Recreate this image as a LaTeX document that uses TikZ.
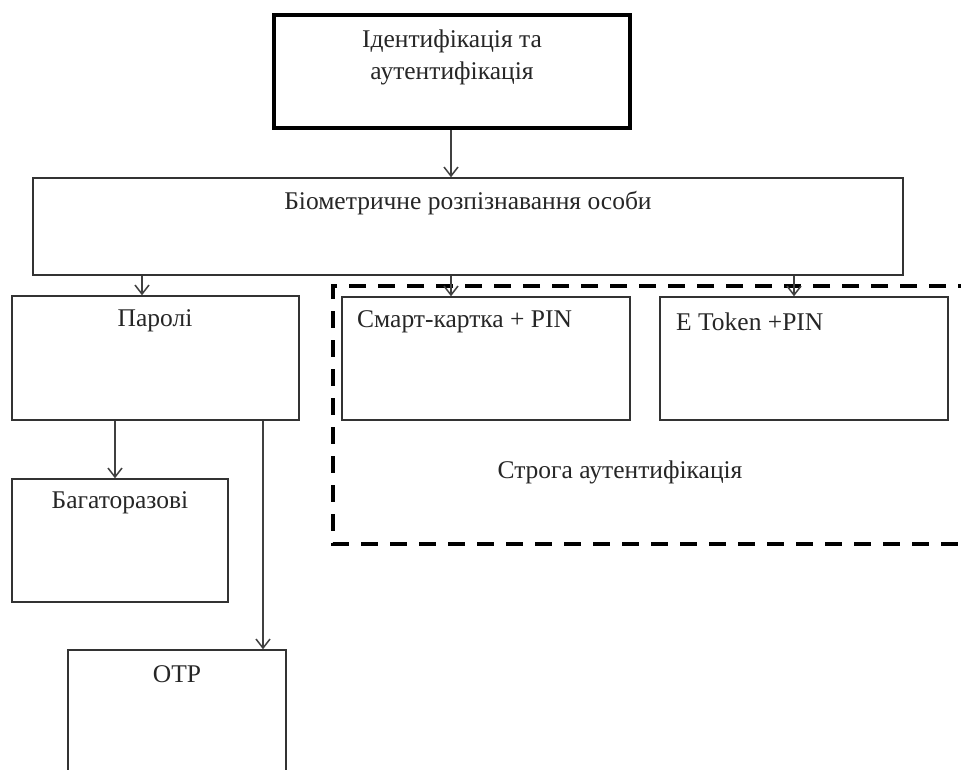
\documentclass[tikz,border=0pt]{standalone}
\usepackage{fontspec}
\setmainfont{Liberation Serif}
\usetikzlibrary{arrows.meta}
\begin{document}
\begin{tikzpicture}[x=1pt, y=-1pt,
  box/.style={draw=black!80, line width=1.5pt, rectangle, inner sep=0pt},
  headbox/.style={draw=black, line width=4pt, rectangle, inner sep=0pt},
  lbl/.style={font=\fontsize{25.5}{32}\selectfont, text=black!85, inner sep=0pt, align=center},
  link/.style={draw=black!75, line width=1.5pt, -{Straight Barb[length=9pt,width=14pt,line width=1.5pt]}},
  strictframe/.style={draw=black, line width=4pt, dash pattern=on 17pt off 12pt}
]
\useasboundingbox (0,0) rectangle (961,769);
\clip (0,0) rectangle (961,769);

% boxes
\node[headbox, minimum width=356pt, minimum height=113pt] (ident) at (452,71.5) {};
\node[box, minimum width=870pt, minimum height=97pt] (bio) at (468,226.5) {};
\node[box, minimum width=287pt, minimum height=124pt] (pass) at (155.5,358) {};
\node[box, minimum width=288pt, minimum height=123pt] (smart) at (486,358.5) {};
\node[box, minimum width=288pt, minimum height=123pt] (etoken) at (804,358.5) {};
\node[box, minimum width=216pt, minimum height=123pt] (multi) at (120,540.5) {};
\node[box, minimum width=218pt, minimum height=160pt] (otp) at (177,730) {};

% strong authentication frame, open to the right
\draw[strictframe] (975,286) -- (333,286) -- (333,544) -- (975,544);

% labels
\node[lbl] (identtxt) at (452,57) {Ідентифікація та\\аутентифікація};
\node[lbl] (biotxt) at (468,203) {Біометричне розпізнавання особи};
\node[lbl] (passtxt) at (155,321) {Паролі};
\node[lbl, anchor=west] (smarttxt) at (357,322) {Смарт-картка + PIN};
\node[lbl, anchor=west] (etokentxt) at (676,322) {E Token +PIN};
\node[lbl] (stricttxt) at (620,472) {Строга аутентифікація};
\node[lbl] (multitxt) at (120,503) {Багаторазові};
\node[lbl] (otptxt) at (177,674) {OTP};

% connectors
\coordinate (identS) at (451,128);
\coordinate (bioS1) at (142,275);
\coordinate (bioS2) at (451,275);
\coordinate (bioS3) at (794,275);
\draw[link] (ident.south -| identS) -- (bio.north -| identS);
\draw[link] (bio.south -| bioS1) -- (pass.north -| bioS1);
\draw[link] (bio.south -| bioS2) -- (smart.north -| bioS2);
\draw[link] (bio.south -| bioS3) -- (etoken.north -| bioS3);
\coordinate (passS1) at (115,420);
\coordinate (passS2) at (263,420);
\draw[link] (pass.south -| passS1) -- (multi.north -| passS1);
\draw[link] (pass.south -| passS2) -- (otp.north -| passS2);
\end{tikzpicture}
\end{document}
